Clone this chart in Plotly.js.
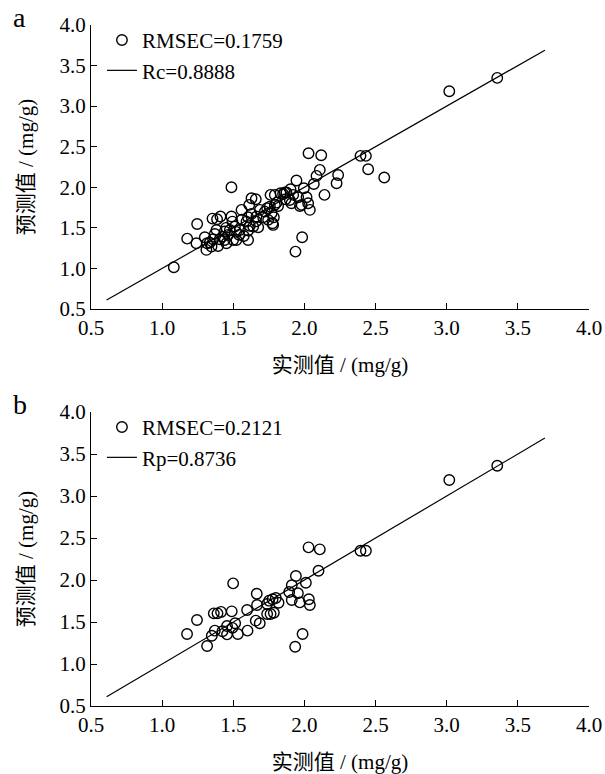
<!DOCTYPE html>
<html>
<head>
<meta charset="utf-8">
<script src="https://cdn.plot.ly/plotly-3.0.1.min.js"></script>
<style>html,body{margin:0;padding:0;background:#fff;}#chart{width:605px;height:774px;}</style>
</head>
<body>
<div id="chart"></div>
<script>
// ---- Data: panel a (calibration set) ----
const aMeasured = [2.029,2.118,2.394,2.432,2.108,2.085,2.237,2.448,2.561,2.226,2.066,1.944,1.902,1.996,1.487,2.141,
  1.762,1.792,1.832,1.862,1.921,1.956,2.015,1.909,1.980,2.026,2.038,1.628,1.658,1.612,1.687,1.722,1.738,1.757,1.792,1.804,
  1.769,1.785,1.776,1.745,1.710,1.663,1.628,1.604,1.593,1.616,1.640,1.675,1.604,1.604,1.574,1.546,1.541,1.511,1.494,1.476,
  1.464,1.440,1.424,1.405,1.382,1.370,1.358,1.335,1.316,1.393,1.347,1.311,1.300,1.241,1.176,1.246,1.354,1.386,1.410,1.487,
  1.558,1.082,1.984,1.937,1.440,1.452,1.522,1.499,3.018,3.355,1.850,1.874,1.867,1.897,1.815,1.780,1.968,1.450,1.520,1.560,1.660];
const aPredicted = [2.420,2.395,2.387,2.387,2.214,2.140,2.152,2.222,2.120,2.050,2.041,2.083,1.976,1.988,2.000,1.906,
  1.906,1.906,1.926,1.935,1.906,1.877,1.877,1.803,1.783,1.803,1.721,1.865,1.852,1.783,1.721,1.700,1.741,1.762,1.783,1.811,
  1.680,1.630,1.556,1.598,1.630,1.639,1.672,1.630,1.577,1.524,1.515,1.507,1.466,1.351,1.400,1.474,1.413,1.515,1.577,1.474,
  1.413,1.454,1.392,1.359,1.474,1.425,1.359,1.318,1.310,1.277,1.269,1.228,1.384,1.310,1.367,1.548,1.614,1.606,1.639,1.639,
  1.721,1.014,1.384,1.207,1.351,1.310,1.351,1.351,3.184,3.348,1.918,1.935,1.852,1.844,1.770,1.536,1.770,1.500,1.450,1.600,1.580];

// ---- Data: panel b (prediction set) ----
const bMeasured = [1.175,1.245,1.316,1.349,1.370,1.363,1.389,1.414,1.424,1.456,1.456,1.489,1.499,1.513,1.494,1.532,
  1.597,1.600,1.665,1.667,1.658,1.686,1.738,1.752,1.776,1.799,1.818,1.738,1.762,1.785,1.940,1.911,1.893,1.954,2.010,
  1.911,1.968,2.031,2.038,2.099,2.029,2.108,1.987,1.935,2.394,2.432,3.018,3.355];
const bPredicted = [1.357,1.524,1.214,1.337,1.397,1.603,1.603,1.620,1.389,1.353,1.452,1.627,1.960,1.485,1.430,1.357,
  1.643,1.397,1.837,1.702,1.516,1.485,1.714,1.754,1.770,1.786,1.730,1.595,1.595,1.611,2.048,1.937,1.857,1.842,1.968,
  1.762,1.734,1.770,1.702,2.111,2.389,2.365,1.357,1.206,2.349,2.349,3.190,3.360];

// ---- Fitted lines (y = x) ----
const fitX = [0.61, 3.69];
const fitY = [0.61, 3.69];

const tickVals = [0.5,1.0,1.5,2.0,2.5,3.0,3.5,4.0];
const tickText = ['0.5','1.0','1.5','2.0','2.5','3.0','3.5','4.0'];

const labelA = ['RMSEC=0.1759', 'Rc=0.8888'];
const labelB = ['RMSEC=0.2121', 'Rp=0.8736'];
const xTitle = '实测值 / (mg/g)';
const yTitle = '预测值 / (mg/g)';
const panelLetters = ['a', 'b'];

const FONT = '"Liberation Serif", "Times New Roman", "Noto Sans CJK SC", serif';

const marker = {symbol: 'circle-open', size: 10.5, color: '#000', line: {width: 1.4, color: '#000'}};
const lineStyle = {color: '#000', width: 1.2};

const traces = [
  {x: aMeasured, y: aPredicted, type: 'scatter', mode: 'markers', marker: marker, name: labelA[0], xaxis: 'x', yaxis: 'y', legend: 'legend'},
  {x: fitX, y: fitY, type: 'scatter', mode: 'lines', line: lineStyle, name: labelA[1], xaxis: 'x', yaxis: 'y', legend: 'legend'},
  {x: bMeasured, y: bPredicted, type: 'scatter', mode: 'markers', marker: marker, name: labelB[0], xaxis: 'x2', yaxis: 'y2', legend: 'legend2'},
  {x: fitX, y: fitY, type: 'scatter', mode: 'lines', line: lineStyle, name: labelB[1], xaxis: 'x2', yaxis: 'y2', legend: 'legend2'}
];

function xAx(anchor) {
  return {
    range: [0.5, 4.0], tickvals: tickVals, ticktext: tickText, ticks: 'inside', ticklen: 6, tickwidth: 1, tickcolor: '#000',
    showline: true, linecolor: '#000', linewidth: 1, showgrid: false, zeroline: false, anchor: anchor,
    tickfont: {family: FONT, size: 21, color: '#000'},
    title: {text: xTitle, font: {family: FONT, size: 21, color: '#000'}, standoff: 18}
  };
}
function yAx(anchor, domain) {
  return {
    range: [0.5, 4.0], tickvals: tickVals, ticktext: tickText, ticks: 'inside', ticklen: 6, tickwidth: 1, tickcolor: '#000',
    showline: true, linecolor: '#000', linewidth: 1, showgrid: false, zeroline: false, anchor: anchor, domain: domain,
    tickfont: {family: FONT, size: 21, color: '#000'},
    title: {text: yTitle, font: {family: FONT, size: 21, color: '#000'}, standoff: 20}
  };
}

const legendCommon = {
  font: {family: FONT, size: 21, color: '#000'}, bgcolor: 'rgba(0,0,0,0)', borderwidth: 0,
  xanchor: 'left', yanchor: 'top', tracegroupgap: 0, itemwidth: 30
};

const layout = {
  width: 605, height: 774,
  margin: {l: 91, r: 16, t: 25, b: 68},
  paper_bgcolor: '#fff', plot_bgcolor: '#fff',
  showlegend: true,
  xaxis: xAx('y'),
  yaxis: yAx('x', [0.583, 1]),
  xaxis2: xAx('y2'),
  yaxis2: yAx('x2', [0, 0.4317]),
  legend: Object.assign({x: 0.022, y: 1.0075}, legendCommon),
  legend2: Object.assign({x: 0.022, y: 0.4392}, legendCommon),
  annotations: [
    {text: panelLetters[0], xref: 'paper', yref: 'paper', x: -0.16, y: 1.0, xanchor: 'left', yanchor: 'bottom', yshift: -10, showarrow: false, font: {family: FONT, size: 28, color: '#000'}},
    {text: panelLetters[1], xref: 'paper', yref: 'paper', x: -0.16, y: 0.4317, xanchor: 'left', yanchor: 'bottom', yshift: -10, showarrow: false, font: {family: FONT, size: 28, color: '#000'}}
  ]
};

Plotly.newPlot('chart', traces, layout, {displayModeBar: false, staticPlot: true});
</script>
</body>
</html>
